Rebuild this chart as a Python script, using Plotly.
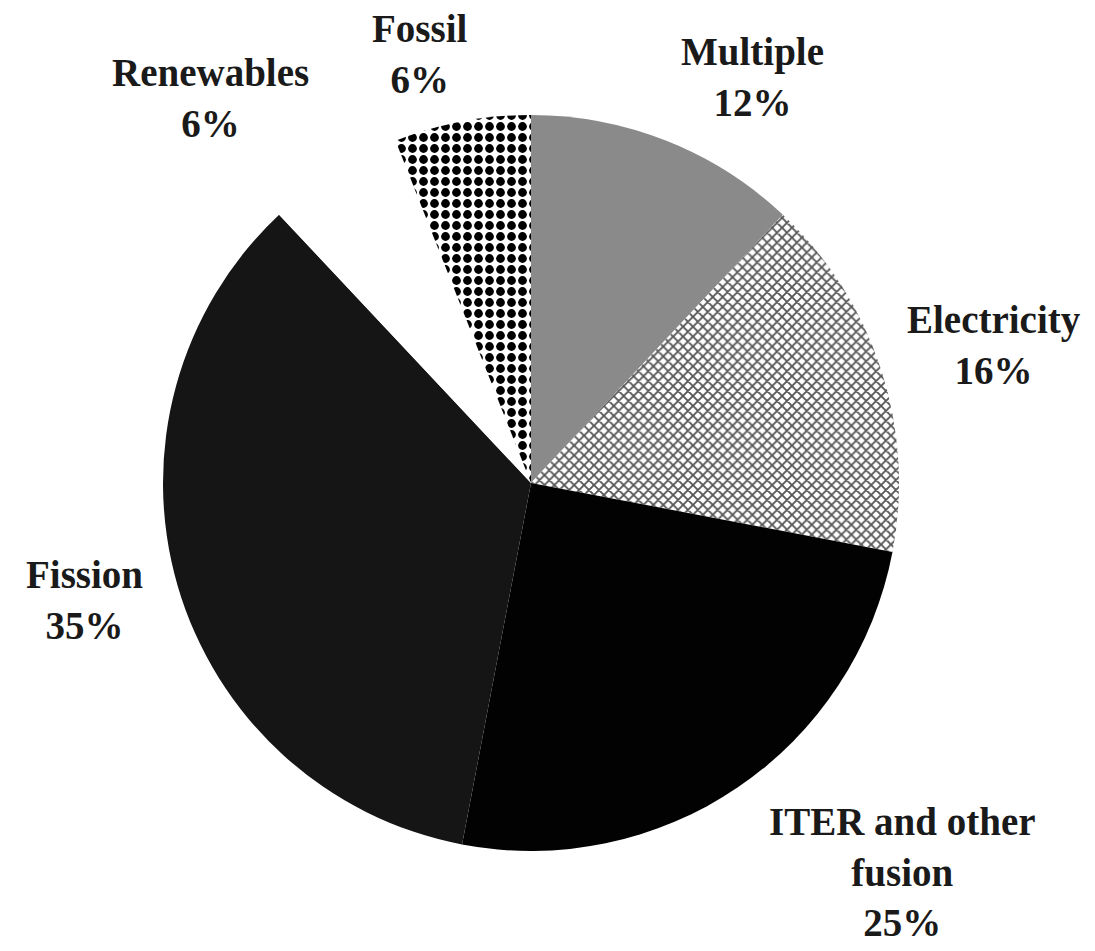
import plotly.graph_objects as go

# Share of funding by area (%), clockwise from 12 o'clock
labels = ["Multiple", "Electricity", "ITER and other fusion", "Fission", "Renewables", "Fossil"]
shares = [12, 16, 25, 35, 6, 6]
label_text = [
    "Multiple<br>12%",
    "Electricity<br>16%",
    "ITER and other<br>fusion<br>25%",
    "Fission<br>35%",
    "Renewables<br>6%",
    "Fossil<br>6%",
]

W, H = 1095, 951
CX, CY, R = 531, 483, 368  # pie centre and radius in pixels (from top-left)

colors = ["#8a8a8a", "#ffffff", "#020202", "#151515", "#ffffff", "#ffffff"]
shapes = ["", "x", "", "", "", "."]
fg = ["#8a8a8a", "#555555", "#020202", "#151515", "#ffffff", "#000000"]
sizes = [8, 7, 8, 8, 8, 11]
solid = [0.3, 0.45, 0.3, 0.3, 0.3, 0.5]

# label block centres in pixels (layout only)
label_pos = [(752, 77), (994, 345), (902, 872), (84, 600), (210, 98), (420, 54)]

fig = go.Figure(
    go.Pie(
        labels=labels,
        values=shares,
        sort=False,
        direction="clockwise",
        rotation=0,
        textinfo="none",
        hoverinfo="label+percent",
        marker=dict(
            colors=colors,
            line=dict(width=0),
            pattern=dict(shape=shapes, fgcolor=fg, bgcolor=colors, size=sizes, solidity=solid, fillmode="replace"),
        ),
        domain=dict(x=[(CX - R) / W, (CX + R) / W], y=[(H - CY - R) / H, (H - CY + R) / H]),
        showlegend=False,
    )
)

for txt, (px, py) in zip(label_text, label_pos):
    fig.add_annotation(
        x=px / W,
        y=1 - py / H,
        xref="paper",
        yref="paper",
        text=txt,
        showarrow=False,
        xanchor="center",
        yanchor="middle",
        align="center",
        font=dict(family="Liberation Serif", size=39, color="#1a1a1a", weight="bold"),
    )

fig.update_layout(
    width=W,
    height=H,
    margin=dict(l=0, r=0, t=0, b=0),
    paper_bgcolor="white",
    plot_bgcolor="white",
)

# drop the browser's default 8px body margin so the figure fills the window
fig.write_html(
    "out.html",
    config={"displayModeBar": False},
    post_script="document.body.style.margin='0';",
)
